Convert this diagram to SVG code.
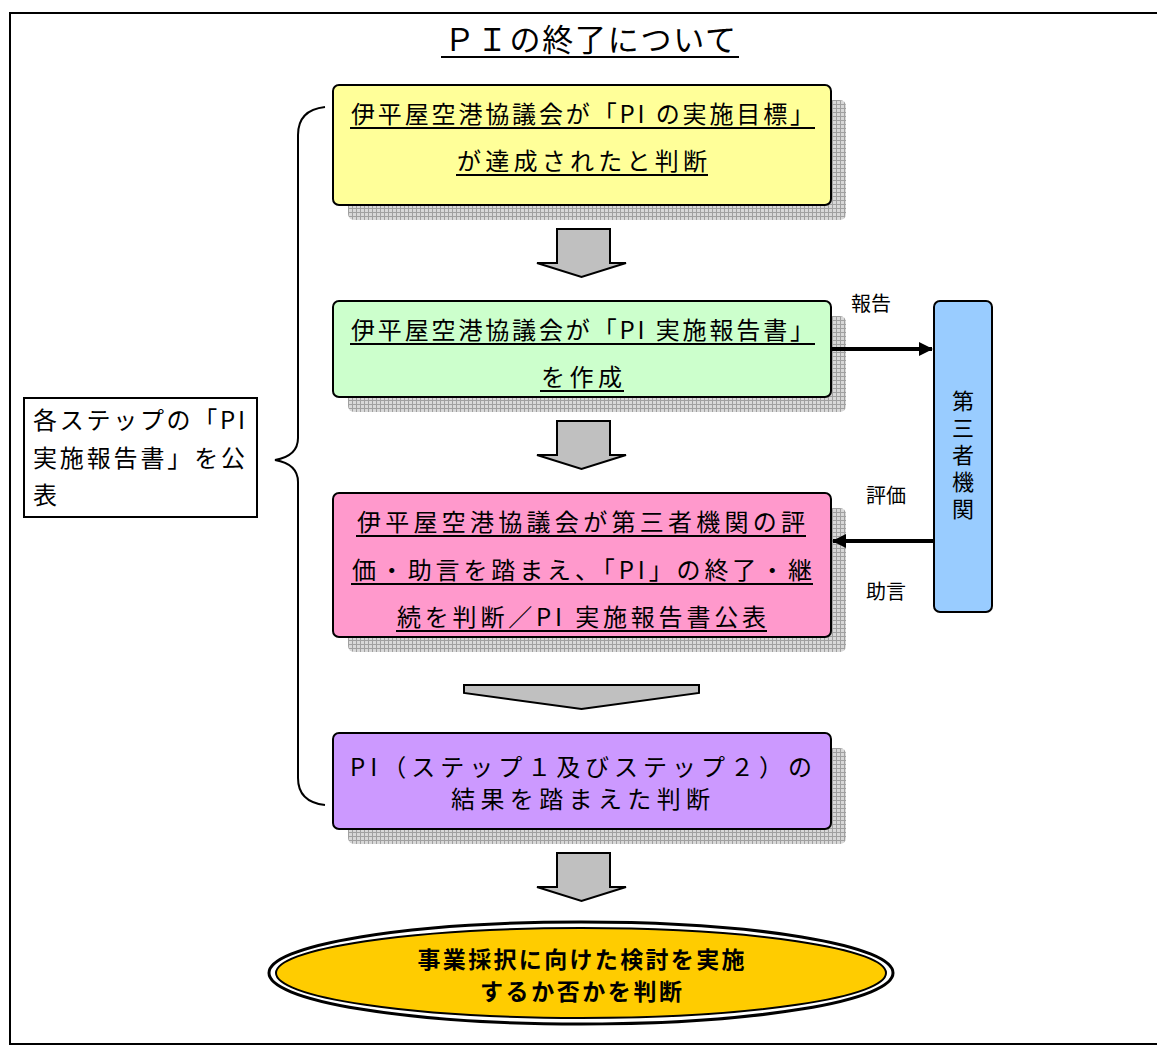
<svg xmlns="http://www.w3.org/2000/svg" width="1157" height="1046" viewBox="0 0 1157 1046">
<defs>
<pattern id="grid" width="4" height="4" patternUnits="userSpaceOnUse">
<rect width="4" height="4" fill="#d8d8d8"/>
<path d="M0 0.5H4M0.5 0V4" stroke="#a0a0a0" stroke-width="1"/>
</pattern>
<marker id="ah2" markerWidth="14" markerHeight="14" refX="13" refY="7" orient="auto" markerUnits="userSpaceOnUse" viewBox="0 0 14 14">
<path d="M0 0L14 7L0 14Z" fill="#000"/>
</marker>
</defs>
<style>
text{font-family:"Noto Sans CJK JP","Noto Sans",sans-serif;fill:#000}
.t{font-size:24px}
.s{font-size:20px}
.b{font-size:23px;font-weight:bold}
.box{stroke:#000;stroke-width:2}
.sh{fill:url(#grid)}
.ul{stroke:#000;stroke-width:2}
.ga{fill:#c0c0c0;stroke:#000;stroke-width:2}
</style>
<rect width="1157" height="1046" fill="#fff"/>
<rect x="10" y="13" width="1160" height="1031" fill="none" stroke="#000" stroke-width="2"/>
<g id="title">
<text x="590" y="51" font-size="31" text-anchor="middle" textLength="292" lengthAdjust="spacing">ＰＩの終了について</text>
<line x1="441" y1="57" x2="739" y2="57" class="ul"/>
</g>
<g id="left-note">
<rect x="24" y="398" width="233" height="119" fill="#fff" stroke="#000" stroke-width="2"/>
<text x="33" y="429" class="t" textLength="212" lengthAdjust="spacing">各ステップの「PI</text>
<text x="33" y="467" class="t" textLength="212" lengthAdjust="spacing">実施報告書」を公</text>
<text x="33" y="504" class="t">表</text>
</g>
<g id="brace">
<path d="M325 107 Q298 110 298 135 V438 Q298 456 275 460 Q298 464 298 482 V778 Q298 802 325 805" fill="none" stroke="#000" stroke-width="2"/>
</g>
<g id="step1">
<rect x="348" y="100" width="498" height="120" rx="6" class="sh"/>
<rect x="333" y="85" width="498" height="120" rx="6" fill="#ffff99" class="box"/>
<text x="351" y="123" class="t" textLength="463" lengthAdjust="spacing">伊平屋空港協議会が「PI の実施目標」</text>
<line x1="350" y1="128" x2="815" y2="128" class="ul"/>
<text x="457" y="170" class="t" textLength="250" lengthAdjust="spacing">が達成されたと判断</text>
<line x1="456" y1="175" x2="708" y2="175" class="ul"/>
</g>
<g id="step2">
<rect x="348" y="316" width="498" height="96" rx="6" class="sh"/>
<rect x="333" y="301" width="498" height="96" rx="6" fill="#ccffcc" class="box"/>
<text x="351" y="339" class="t" textLength="463" lengthAdjust="spacing">伊平屋空港協議会が「PI 実施報告書」</text>
<line x1="350" y1="344" x2="815" y2="344" class="ul"/>
<text x="541" y="386" class="t" textLength="81" lengthAdjust="spacing">を作成</text>
<line x1="540" y1="391" x2="624" y2="391" class="ul"/>
</g>
<g id="step3">
<rect x="348" y="508" width="498" height="144" rx="6" class="sh"/>
<rect x="333" y="493" width="498" height="144" rx="6" fill="#ff99cc" class="box"/>
<text x="357" y="531" class="t" textLength="448" lengthAdjust="spacing">伊平屋空港協議会が第三者機関の評</text>
<line x1="356" y1="536" x2="806" y2="536" class="ul"/>
<text x="352" y="579" class="t" textLength="460" lengthAdjust="spacing">価・助言を踏まえ、「PI」の終了・継</text>
<line x1="351" y1="584" x2="813" y2="584" class="ul"/>
<text x="397" y="626" class="t" textLength="369" lengthAdjust="spacing">続を判断／PI 実施報告書公表</text>
<line x1="396" y1="631" x2="767" y2="631" class="ul"/>
</g>
<g id="step4">
<rect x="348" y="748" width="498" height="96" rx="6" class="sh"/>
<rect x="333" y="733" width="498" height="96" rx="6" fill="#cc99ff" class="box"/>
<text x="350" y="776" class="t" textLength="462" lengthAdjust="spacing">PI（ステップ１及びステップ２）の</text>
<text x="451" y="808" class="t" textLength="259" lengthAdjust="spacing">結果を踏まえた判断</text>
</g>
<g id="third-party">
<rect x="934" y="301" width="58" height="311" rx="6" fill="#99ccff" class="box"/>
<text x="963" y="390" font-size="22" writing-mode="vertical-rl" letter-spacing="5">第三者機関</text>
</g>
<g id="final">
<ellipse cx="581" cy="973" rx="312" ry="51" fill="#fff" stroke="#000" stroke-width="3"/>
<ellipse cx="581" cy="973" rx="305" ry="45" fill="#ffcc00" stroke="#000" stroke-width="2"/>
<text x="581" y="968" class="b" text-anchor="middle" textLength="327" lengthAdjust="spacing">事業採択に向けた検討を実施</text>
<text x="581" y="1000" class="b" text-anchor="middle" textLength="202" lengthAdjust="spacing">するか否かを判断</text>
</g>
<g id="connectors">
<path d="M557 229H610V263H626L581.5 277L537 263H557Z" class="ga"/>
<path d="M557 421H610V455H626L581.5 469L537 455H557Z" class="ga"/>
<path d="M464 685H699V693L581.5 709L464 693Z" class="ga"/>
<path d="M557 853H610V887H626L581.5 901L537 887H557Z" class="ga"/>
<line x1="831" y1="349" x2="932" y2="349" stroke="#000" stroke-width="4" marker-end="url(#ah2)"/>
<line x1="934" y1="541" x2="833" y2="541" stroke="#000" stroke-width="4" marker-end="url(#ah2)"/>
<text x="871" y="311" class="s" text-anchor="middle">報告</text>
<text x="886" y="503" class="s" text-anchor="middle">評価</text>
<text x="886" y="599" class="s" text-anchor="middle">助言</text>
</g>
</svg>
